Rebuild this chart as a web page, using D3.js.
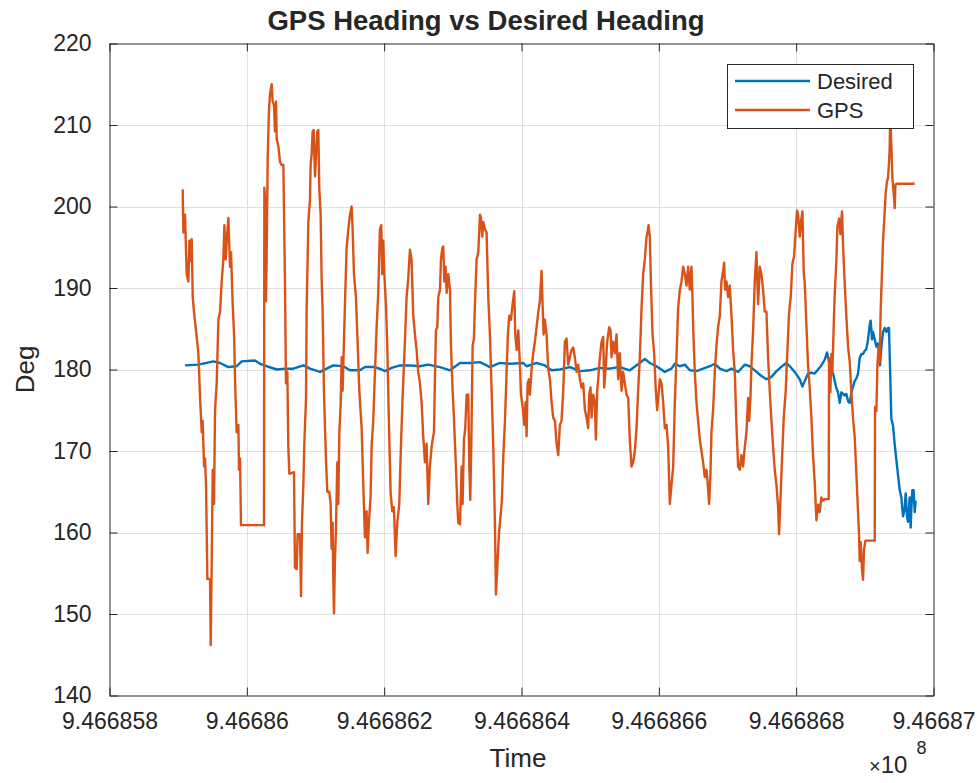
<!DOCTYPE html>
<html>
<head>
<meta charset="utf-8">
<script src="https://cdn.jsdelivr.net/npm/d3@7"></script>
<style>
  html, body { margin: 0; padding: 0; background: #fff; }
  text { font-family: "Liberation Sans", Arial, Helvetica, sans-serif; fill: #262626; }
</style>
</head>
<body>
<svg id="chart" width="980" height="783"></svg>
<script>
// ---------------- DATA ----------------
const chartTitle = "GPS Heading vs Desired Heading";
const xLabel = "Time";
const yLabel = "Deg";
const seriesNames = ["Desired", "GPS"];
const timeBase = 946685800;            // seconds; x values below are offsets from this
const xTicks = [946685800, 946686000, 946686200, 946686400, 946686600, 946686800, 946687000];
const yTicks = [140, 150, 160, 170, 180, 190, 200, 210, 220];

const desiredOffset = [110.0,129.4,151.3,161.0,173.1,185.2,192.5,211.9,219.2,228.9,243.5,255.6,267.7,282.3,292.0,306.5,316.2,325.9,340.5,350.2,364.7,372.0,386.6,396.3,401.1,410.8,423.0,437.5,452.1,464.2,481.3,495.8,510.4,524.9,539.5,554.0,568.6,583.1,602.6,607.4,622.0,634.1,643.8,655.9,670.5,685.0,699.6,714.1,727.7,743.2,757.8,772.3,779.6,786.9,796.6,808.7,818.4,823.3,830.6,837.9,845.1,854.8,864.5,874.2,881.5,888.8,898.5,905.8,915.5,925.2,932.4,939.7,949.4,956.7,964.0,971.3,981.0,985.8,990.7,997.9,1005.2,1009.1,1012.5,1017.3,1022.2,1027.0,1031.9,1036.7,1041.6,1045.0,1047.9,1051.3,1053.7,1056.1,1058.6,1061.0,1063.4,1065.9,1068.3,1070.7,1073.1,1075.6,1078.0,1080.4,1082.8,1085.3,1087.7,1090.1,1092.5,1095.0,1097.4,1099.8,1102.2,1104.7,1107.1,1108.5,1110.5,1111.9,1114.4,1116.8,1119.2,1120.7,1122.1,1124.1,1126.5,1128.9,1131.4,1133.8,1135.2,1137.2,1138.6,1141.1,1143.5,1145.9,1148.3,1150.8,1153.2,1155.6,1158.0,1159.5,1161.4,1162.9,1165.3,1166.8,1167.7,1169.2,1171.1,1172.6,1174.0];
const desiredHeading = [180.5,180.6,181.0,180.8,180.3,180.4,181.0,181.1,180.7,180.4,180.0,180.1,180.1,180.5,180.1,179.7,180.1,180.5,180.4,179.9,179.9,180.3,180.3,180.0,179.8,180.2,180.5,180.5,180.4,180.6,180.3,179.9,180.8,180.8,180.9,180.3,180.8,180.7,180.8,180.4,180.8,180.5,179.9,180.0,180.3,179.8,179.9,180.2,180.1,180.3,179.9,180.8,181.3,180.8,180.4,179.7,180.1,180.7,180.4,180.6,179.9,179.8,180.1,180.4,180.7,180.1,179.8,180.1,179.7,180.6,180.4,179.9,179.2,178.8,179.1,179.8,180.5,180.8,180.4,179.7,178.8,177.9,178.6,179.5,179.6,179.5,180.0,180.5,181.2,182.1,180.9,180.0,179.5,178.6,177.7,177.2,175.9,177.2,177.0,176.8,177.0,176.1,175.9,177.2,177.9,178.6,178.9,179.5,181.4,181.9,181.9,182.3,182.5,183.7,185.5,186.0,183.7,184.6,183.7,182.8,183.2,181.9,180.5,182.8,184.6,185.1,184.6,185.1,185.1,178.6,174.0,173.1,170.8,168.9,167.1,165.2,164.3,162.0,162.9,164.8,162.0,161.3,164.3,160.6,162.9,165.2,165.2,162.5,163.9];

const gpsOffset = [106.6,107.6,110.0,111.5,112.5,114.9,116.3,118.3,119.7,121.2,123.1,126.0,129.4,131.9,134.3,135.7,137.7,139.1,140.6,142.5,146.4,147.4,148.9,150.3,152.2,153.7,156.1,158.6,161.0,163.4,165.8,167.3,169.2,170.7,173.1,175.5,177.0,179.4,181.4,183.3,185.2,187.7,188.6,190.1,191.5,225.0,225.5,226.5,227.9,228.9,230.4,232.3,233.8,236.2,237.6,239.6,241.0,242.5,243.5,245.9,248.3,250.7,253.2,255.6,257.0,259.0,260.4,261.9,268.7,270.1,272.6,274.0,277.4,278.9,280.3,282.3,283.7,286.2,287.1,289.6,292.0,
292.9,294.4,295.8,297.3,299.2,300.7,302.6,304.1,305.5,307.5,308.9,310.4,312.3,315.2,317.2,320.1,322.0,323.5,324.9,325.9,326.9,328.3,329.8,331.7,333.2,334.7,336.6,338.1,339.5,340.5,342.9,345.3,347.8,350.2,352.6,354.1,356.0,358.9,360.9,363.8,367.2,369.6,372.0,374.4,375.9,377.8,380.3,381.7,384.1,386.6,389.0,391.4,393.8,395.8,397.2,398.7,400.2,402.6,404.5,407.4,409.4,411.8,414.2,416.7,419.1,422.0,424.4,426.8,430.2,432.7,435.1,437.5,439.9,442.4,444.8,447.2,449.6,452.1,454.5,456.9,459.4,461.8,464.2,466.6,
469.1,470.6,472.5,474.0,475.4,477.4,478.8,481.3,482.7,484.7,486.1,487.6,489.5,491.0,493.4,495.8,497.3,499.7,501.6,504.5,506.5,507.9,510.4,512.8,514.2,516.2,518.1,520.1,522.5,524.0,525.4,526.9,528.8,530.7,532.2,534.6,537.1,539.5,540.9,542.9,544.3,546.8,549.2,551.6,554.0,556.5,558.9,561.3,562.8,564.7,567.1,569.6,571.5,573.4,575.9,578.3,580.2,582.2,584.6,587.0,589.5,590.9,592.9,595.3,597.7,599.2,601.6,604.0,606.0,607.4,608.9,610.8,612.3,614.7,617.1,619.5,622.0,624.4,626.8,629.2,630.7,632.2,634.1,636.5,638.9,641.4,643.8,646.2,648.7,651.1,653.5,655.9,
658.3,660.8,663.2,665.6,668.0,670.5,672.9,675.3,677.7,680.2,682.6,685.0,687.4,689.9,692.3,694.7,697.1,698.6,700.5,702.0,704.4,706.8,708.3,710.2,711.7,714.1,716.6,719.0,720.4,722.9,724.8,727.7,729.7,731.1,733.5,736.0,738.4,740.8,743.2,745.7,748.1,750.5,752.9,755.4,757.8,760.2,762.6,765.1,767.5,769.9,772.3,774.8,777.2,779.6,782.1,783.5,785.0,786.9,788.4,790.8,793.2,795.6,797.6,799.0,801.5,803.9,806.3,808.7,811.2,813.6,816.0,818.4,820.9,823.3,825.7,828.1,830.6,833.0,835.4,837.9,840.3,842.7,845.1,
847.5,849.0,850.0,852.4,854.8,857.2,859.7,862.1,864.5,866.9,869.4,871.8,873.2,875.2,876.6,879.1,881.5,883.9,886.3,888.8,891.2,893.6,895.1,896.5,898.5,900.9,903.3,905.8,908.2,910.6,913.0,915.5,917.9,920.3,922.7,925.2,927.6,930.0,931.5,933.4,934.9,937.3,939.7,942.1,944.6,947.0,949.4,951.8,954.3,956.7,959.1,961.5,964.0,966.4,968.8,971.3,973.7,975.1,977.1,979.0,981.9,984.8,986.8,989.7,992.1,994.5,997.0,999.4,1001.3,1002.8,1005.2,
1007.6,1009.1,1011.0,1012.5,1014.9,1017.3,1019.8,1022.2,1024.6,1027.0,1029.5,1031.9,1034.3,1036.7,1039.2,1041.6,1047.4,1047.9,1049.8,1051.3,1052.7,1054.7,1056.1,1058.6,1060.0,1062.5,1064.4,1066.8,1068.3,1070.7,1073.1,1075.6,1078.0,1080.4,1082.8,1085.3,1087.7,1090.1,1091.6,1092.5,1094.0,1095.9,1097.4,1098.8,1100.8,1114.4,1114.9,1116.8,1118.3,1120.2,1121.6,1123.1,1125.0,1126.5,1128.9,1130.4,1132.3,1133.8,1135.2,1136.2,1137.2,1138.1,1139.1,1140.1,1141.1,1142.5,1143.5,1144.5,1145.9,1172.6];
const gpsHeading = [202.1,196.8,199.0,194.4,191.7,190.8,195.8,193.3,196.0,188.9,187.0,184.8,182.0,176.5,172.3,173.7,168.1,169.1,165.8,154.3,154.3,146.2,156.6,167.7,163.5,175.0,178.3,186.1,187.1,190.8,193.5,197.7,193.5,195.8,198.6,192.6,194.4,188.0,184.3,177.4,172.3,173.2,167.7,169.1,160.9,160.9,202.3,200.9,188.4,194.0,206.0,212.0,213.8,215.0,212.9,212.4,209.2,212.9,208.3,207.4,205.5,205.1,205.1,190.3,178.3,179.7,170.5,167.2,167.4,155.7,155.5,159.8,159.8,152.2,161.2,165.8,170.9,176.5,187.5,198.1,200.9,
205.1,206.4,209.2,209.4,203.7,206.0,209.2,209.4,202.3,199.0,191.2,187.1,177.4,169.1,165.0,165.0,163.5,158.0,161.2,154.3,150.1,156.6,160.3,168.6,163.5,172.3,175.5,181.5,177.4,180.6,188.0,194.9,197.2,199.0,200.0,197.2,191.7,188.9,184.3,177.4,172.8,165.8,159.4,162.6,157.5,161.2,164.5,170.5,173.7,179.7,185.2,189.4,197.2,197.7,191.7,195.8,191.7,188.0,182.9,171.8,164.9,162.6,163.1,157.1,161.2,163.5,170.5,176.5,183.4,188.9,191.2,194.7,193.5,186.6,184.3,182.4,179.7,178.3,176.0,171.8,168.6,170.9,163.5,168.1,
170.5,171.4,172.3,179.2,184.8,185.2,188.9,189.8,193.5,194.9,195.1,190.8,192.6,189.4,191.7,189.8,182.9,177.4,174.1,168.1,163.5,161.2,161.0,168.1,163.5,171.4,172.8,176.9,176.9,168.1,164.0,170.9,182.9,183.8,188.0,193.5,194.4,199.0,198.6,196.3,198.1,197.2,196.8,188.9,184.3,177.4,170.5,161.2,152.4,155.6,159.8,162.1,164.0,169.1,173.7,179.7,184.3,186.6,186.1,188.0,189.6,184.3,182.4,184.8,180.6,176.9,175.5,173.2,176.0,171.8,178.3,178.8,176.9,180.1,182.0,183.4,185.2,187.0,188.4,192.1,188.0,184.3,186.1,184.3,180.1,178.8,176.0,174.1,173.7,170.9,169.5,173.2,
173.7,177.4,183.4,183.8,180.6,181.5,182.4,182.7,181.5,179.7,180.6,178.8,177.8,178.3,175.1,174.1,172.8,176.9,177.8,174.1,176.9,176.0,171.4,177.4,178.8,181.5,183.4,184.0,177.8,180.6,183.4,185.2,184.8,181.5,183.4,182.0,184.3,178.8,182.0,177.4,179.7,178.3,176.9,176.5,171.2,168.1,168.6,170.0,172.8,177.4,181.5,187.5,191.7,193.5,196.3,196.8,197.7,196.3,190.8,184.3,182.0,177.4,175.0,176.5,178.8,178.3,176.0,172.8,173.2,170.5,163.5,165.8,168.1,176.0,181.5,187.5,189.8,190.8,192.6,191.7,190.3,192.6,189.8,
192.6,188.9,185.2,179.7,176.0,173.7,171.4,170.0,168.6,166.8,167.7,165.4,163.5,167.2,172.3,175.1,179.7,182.9,185.2,186.6,190.8,192.1,193.1,189.8,190.8,188.9,190.3,186.6,182.4,179.7,173.2,168.1,167.7,169.5,168.1,170.5,172.3,176.5,173.7,176.5,180.6,184.8,190.8,194.4,188.0,192.6,191.7,189.8,187.1,187.1,181.5,177.4,173.7,170.5,167.7,165.8,163.1,159.8,164.0,168.1,174.1,177.4,181.5,187.0,188.9,193.0,193.9,197.2,199.5,199.0,196.3,
198.5,199.4,192.0,190.6,185.5,180.5,177.7,174.0,169.4,166.2,161.5,163.4,162.5,164.3,163.9,164.1,164.1,181.4,177.2,181.9,179.5,185.5,189.2,193.4,197.5,198.5,196.6,199.4,195.2,190.6,186.5,182.8,180.9,177.2,174.0,171.7,167.1,162.5,159.7,156.5,158.8,155.5,154.2,157.9,159.0,159.0,175.4,174.9,180.5,182.8,180.9,187.4,192.0,195.7,199.4,201.7,203.1,203.5,205.4,207.2,212.5,208.6,206.3,203.5,202.6,201.2,199.8,202.6,202.8,202.8];

// ---------------- CHART ----------------
const W = 980, H = 783;
const plot = { left: 109.5, right: 933.5, top: 43.5, bottom: 695.5 };
const colors = { desired: "#0072BD", gps: "#D95319", axis: "#262626", grid: "#dfdfdf" };
const fontFam = '"Liberation Sans", Arial, Helvetica, sans-serif';

const svg = d3.select("#chart");
svg.append("rect").attr("width", W).attr("height", H).attr("fill", "#fff");

const x = d3.scaleLinear().domain([xTicks[0], xTicks[xTicks.length - 1]]).range([plot.left, plot.right]);
const y = d3.scaleLinear().domain([yTicks[0], yTicks[yTicks.length - 1]]).range([plot.bottom, plot.top]);

const desired = desiredOffset.map((t, i) => ({ t: timeBase + t, v: desiredHeading[i] }));
const gps = gpsOffset.map((t, i) => ({ t: timeBase + t, v: gpsHeading[i] }));

// grid
const grid = svg.append("g");
grid.selectAll(".gx").data(xTicks.slice(1, -1)).enter().append("line")
  .attr("x1", d => Math.round(x(d)) + 0.5).attr("x2", d => Math.round(x(d)) + 0.5)
  .attr("y1", plot.top).attr("y2", plot.bottom)
  .attr("stroke", colors.grid).attr("stroke-width", 1);
grid.selectAll(".gy").data(yTicks.slice(1, -1)).enter().append("line")
  .attr("y1", d => Math.round(y(d)) + 0.5).attr("y2", d => Math.round(y(d)) + 0.5)
  .attr("x1", plot.left).attr("x2", plot.right)
  .attr("stroke", colors.grid).attr("stroke-width", 1);

// clip
svg.append("clipPath").attr("id", "clip").append("rect")
  .attr("x", plot.left).attr("y", plot.top)
  .attr("width", plot.right - plot.left).attr("height", plot.bottom - plot.top);

const line = d3.line().x(d => x(d.t)).y(d => y(d.v));
const lines = svg.append("g").attr("clip-path", "url(#clip)");
lines.append("path").datum(desired).attr("d", line)
  .attr("fill", "none").attr("stroke", colors.desired).attr("stroke-width", 2.4).attr("stroke-linejoin", "round");
lines.append("path").datum(gps).attr("d", line)
  .attr("fill", "none").attr("stroke", colors.gps).attr("stroke-width", 2.4).attr("stroke-linejoin", "round");

// axes (MATLAB style: inward ticks, full box)
const fmtX = d => (d / 1e8).toFixed(6).replace(/0+$/, "").replace(/\.$/, "");
const tickLen = 8;
const xAxisB = d3.axisBottom(x).tickValues(xTicks).tickSizeInner(-tickLen).tickSizeOuter(0).tickPadding(17).tickFormat(fmtX);
const xAxisT = d3.axisTop(x).tickValues(xTicks).tickSizeInner(-tickLen).tickSizeOuter(0).tickFormat("");
const yAxisL = d3.axisLeft(y).tickValues(yTicks).tickSizeInner(-tickLen).tickSizeOuter(0).tickPadding(18).tickFormat(d3.format("d"));
const yAxisR = d3.axisRight(y).tickValues(yTicks).tickSizeInner(-tickLen).tickSizeOuter(0).tickFormat("");

function style(g) {
  g.select(".domain").attr("stroke", colors.axis).attr("stroke-width", 1);
  g.selectAll(".tick line").attr("stroke", colors.axis).attr("stroke-width", 1);
  g.selectAll(".tick text").attr("fill", colors.axis).style("font-size", "23px").style("font-family", fontFam);
}
svg.append("g").attr("transform", `translate(0,${plot.bottom})`).call(xAxisB).call(style);
svg.append("g").attr("transform", `translate(0,${plot.top})`).call(xAxisT).call(style);
svg.append("g").attr("transform", `translate(${plot.left},0)`).call(yAxisL).call(style);
svg.append("g").attr("transform", `translate(${plot.right},0)`).call(yAxisR).call(style);

// title & labels
svg.append("text").attr("x", 486).attr("y", 30)
  .attr("text-anchor", "middle").style("font-size", "27.5px").style("font-weight", "bold")
  .attr("fill", "#000").text(chartTitle);
svg.append("text").attr("x", 518).attr("y", 767)
  .attr("text-anchor", "middle").style("font-size", "26px").text(xLabel);
svg.append("text").attr("transform", `translate(34,${(plot.top + plot.bottom) / 2}) rotate(-90)`)
  .attr("text-anchor", "middle").style("font-size", "26px").text(yLabel);

// exponent label
const ex = svg.append("text").attr("x", 869).attr("y", 773).style("font-size", "24px");
ex.append("tspan").style("font-size", "20px").text("\u00d7");
ex.append("tspan").text("10");
ex.append("tspan").attr("dy", -19).attr("dx", 9).style("font-size", "18px").text("8");

// legend
const lg = svg.append("g");
lg.append("rect").attr("x", 727.5).attr("y", 64.5).attr("width", 186).attr("height", 64)
  .attr("fill", "#fff").attr("stroke", colors.axis).attr("stroke-width", 1);
const entries = [{ name: seriesNames[0], c: colors.desired, yy: 81 }, { name: seriesNames[1], c: colors.gps, yy: 110 }];
entries.forEach(e => {
  lg.append("line").attr("x1", 735).attr("x2", 810).attr("y1", e.yy).attr("y2", e.yy)
    .attr("stroke", e.c).attr("stroke-width", 2.4);
  lg.append("text").attr("x", 817).attr("y", e.yy + 8).style("font-size", "22px").attr("fill", "#000").text(e.name);
});
</script>
</body>
</html>
